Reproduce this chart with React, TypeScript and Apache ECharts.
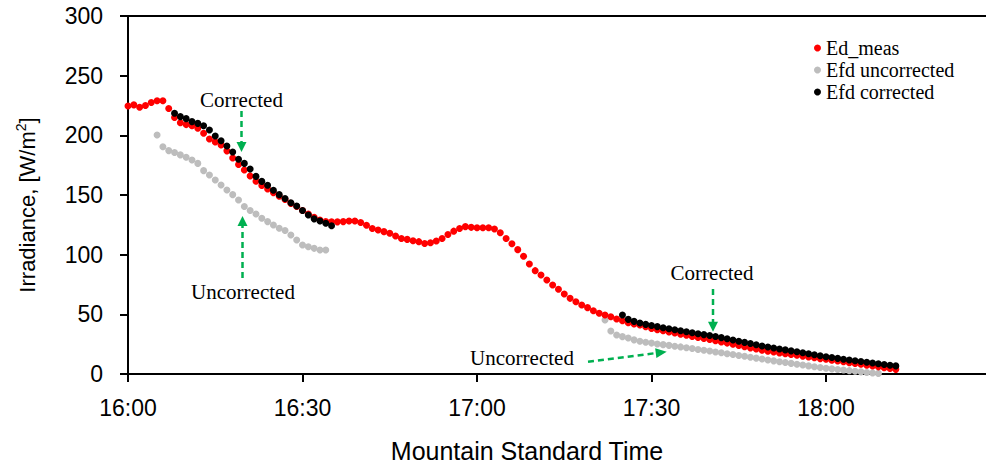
import React, { useEffect, useRef } from "react";
import * as echarts from "echarts";

// minutes after 16:00 for first sample of each series (1-minute spacing)
const edMeasStart = 0;
const edMeas = [
  224.6, 225.5, 223.5, 225, 227.5, 229, 229, 222.5, 215, 210.5,
  209, 208, 206, 201.7, 197, 194.5, 192, 187, 181, 175.5,
  171, 166, 161.5, 158, 155, 152, 149, 146.3, 143, 140.3,
  137, 134.1, 131.3, 129, 127.7, 127.5, 127.5, 127.7, 128.2, 128.2,
  126.9, 124.6, 122, 120.7, 119.3, 117.9, 115.7, 113.6, 112.8, 111.7,
  110.9, 109.4, 110, 111.5, 113.6, 116.9, 119.7, 122, 123.5, 122.9,
  122.6, 122.6, 122.6, 121.5, 118.4, 113.6, 109.2, 104.2, 98.6, 92.2,
  86.6, 83, 78.8, 74.6, 71, 67, 63.4, 60.6, 57.8, 55.6,
  53, 50.9, 49.5, 48, 46.1, 44.7, 43, 41.9, 41, 39.6,
  38.2, 37.1, 36.2, 35.3, 34.3, 33.4, 32.4, 31.5, 30.6, 29.7,
  28.9, 27.9, 26.9, 25.9, 24.9, 23.9, 22.9, 21.9, 21.0, 20.0,
  19.1, 18.4, 17.7, 17.0, 16.3, 15.7, 15.0, 14.3, 13.6, 12.9,
  12.3, 11.6, 10.9, 10.2, 9.5, 8.8, 8.1, 7.4, 6.7, 6.0,
  5.2, 4.6, 3.9,
];

const efdUncorrA_Start = 5;
const efdUncorrA = [
  200.3, 190.5, 187.2, 185.6, 183.6, 181.6, 179.4, 176.5, 170.4, 166.8,
  162.6, 158.4, 154.2, 150.3, 145.8, 140.3, 137, 134.1, 130.5, 127.7,
  124.9, 122.1, 120.2, 116.5, 112.3, 108.1, 106.7, 105.3, 103.9, 103.9,
];
const efdUncorrB_Start = 82;
const efdUncorrB = [
  45.3, 36.0, 32.7, 31.3, 30.2, 28.6, 27.4, 26.6, 25.9, 25.2,
  24.6, 24.0, 23.3, 22.7, 22.0, 21.3, 20.6, 19.9, 19.3, 18.5,
  17.8, 17.0, 16.3, 15.5, 14.8, 14.0, 13.3, 12.5, 11.8, 11.0,
  10.3, 9.6, 8.9, 8.2, 7.5, 6.8, 6.1, 5.4, 4.8, 4.3,
  3.8, 3.3, 2.8, 2.3, 1.8, 1.3, 0.9, 0.5,
];

const efdCorrA_Start = 8;
const efdCorrA = [
  218.5, 215.7, 214, 211.5, 210, 208, 204.5, 199.5, 195.5, 191,
  186, 180, 176.5, 171.8, 165.6, 161.4, 158.2, 154, 150.3, 147,
  143.5, 140.8, 137, 133.3, 130, 128.2, 126.3, 124.3,
];
const efdCorrB_Start = 85;
const efdCorrB = [
  49.5, 45.8, 44.1, 42.8, 41.6, 40.6, 39.7, 38.8, 37.9, 37.1,
  36.3, 35.4, 34.6, 33.8, 33.0, 32.3, 31.4, 30.5, 29.5, 28.5,
  27.5, 26.5, 25.5, 24.5, 23.5, 22.6, 21.8, 21.0, 20.2, 19.4,
  18.6, 17.8, 17.0, 16.2, 15.3, 14.5, 13.8, 13.1, 12.4, 11.7,
  11.1, 10.5, 9.9, 9.2, 8.6, 8.0, 7.4, 6.8,
];

const xTickValues = [0, 30, 60, 90, 120];
const xTickLabels = ["16:00", "16:30", "17:00", "17:30", "18:00"];

const seriesNames = ["Ed_meas", "Efd uncorrected", "Efd corrected"];
const seriesColors = ["#FF0000", "#BDBDBD", "#000000"];

function toPairs(start: number, vals: number[]) {
  return vals.map((v, i) => [start + i, v]);
}

const SERIF = "'Liberation Serif', 'Times New Roman', serif";
const SANS = "'Liberation Sans', Arial, sans-serif";
const GREEN = "#00B050";

function arrowDown(x: number, y1: number, tipY: number) {
  return [
    { type: "line", shape: { x1: x, y1, x2: x, y2: tipY - 9 }, style: { stroke: GREEN, lineWidth: 2.5, lineDash: [6, 4] } },
    { type: "polygon", shape: { points: [[x - 5, tipY - 10], [x + 5, tipY - 10], [x, tipY]] }, style: { fill: GREEN } },
  ];
}
function arrowUp(x: number, y1: number, tipY: number) {
  return [
    { type: "line", shape: { x1: x, y1, x2: x, y2: tipY + 9 }, style: { stroke: GREEN, lineWidth: 2.5, lineDash: [6, 4] } },
    { type: "polygon", shape: { points: [[x - 5, tipY + 10], [x + 5, tipY + 10], [x, tipY]] }, style: { fill: GREEN } },
  ];
}
function arrowRight(x1: number, y1: number, tx: number, ty: number) {
  const dx = tx - x1, dy = ty - y1;
  const len = Math.sqrt(dx * dx + dy * dy);
  const ux = dx / len, uy = dy / len;
  const bx = tx - 11 * ux, by = ty - 11 * uy;
  const px = -uy, py = ux;
  return [
    { type: "line", shape: { x1, y1, x2: bx + ux, y2: by + uy }, style: { stroke: GREEN, lineWidth: 2.5, lineDash: [6, 4] } },
    { type: "polygon", shape: { points: [[bx + 5 * px, by + 5 * py], [bx - 5 * px, by - 5 * py], [tx, ty]] }, style: { fill: GREEN } },
  ];
}
function label(text: string, x: number, y: number) {
  return {
    type: "text",
    x,
    y,
    style: {
      text,
      fill: "#000",
      fontSize: 21,
      fontFamily: SERIF,
      align: "center",
      verticalAlign: "middle",
      textAlign: "center",
      textVerticalAlign: "middle",
    },
  };
}

export default function App() {
  const ref = useRef<HTMLDivElement>(null);
  useEffect(() => {
    document.body.style.margin = "0";
    if (!ref.current) return;
    const chart = echarts.init(ref.current, null, { renderer: "svg" });
    const fmt = (v: number) => {
      const idx = xTickValues.indexOf(v);
      return idx >= 0 ? xTickLabels[idx] : "";
    };
    const sym = { type: "scatter", symbol: "circle", symbolSize: 7 };
    chart.setOption({
      animation: false,
      backgroundColor: "#fff",
      grid: { left: 128, top: 16, right: 0, bottom: 90 },
      legend: {
        orient: "vertical",
        left: 809,
        top: 33,
        itemWidth: 7,
        itemHeight: 7,
        itemGap: 2,
        icon: "circle",
        data: seriesNames,
        textStyle: { fontFamily: SERIF, fontSize: 20, color: "#000", lineHeight: 20 },
      },
      xAxis: [
        {
          type: "value",
          min: 0,
          max: 147.5,
          interval: 30,
          splitLine: { show: false },
          axisLine: { show: true, lineStyle: { color: "#000", width: 2 } },
          axisTick: { show: true, inside: false, length: 8, lineStyle: { color: "#000", width: 2 }, customValues: xTickValues },
          axisLabel: { customValues: xTickValues, formatter: fmt, margin: 22, fontSize: 23, fontFamily: SANS, color: "#000" },
        },
        {
          type: "value",
          position: "top",
          min: 0,
          max: 147.5,
          splitLine: { show: false },
          axisLine: { show: true, onZero: false, lineStyle: { color: "#000", width: 2 } },
          axisTick: { show: false },
          axisLabel: { show: false },
        },
      ],
      yAxis: {
        type: "value",
        min: 0,
        max: 300,
        interval: 50,
        splitLine: { show: false },
        axisLine: { show: true, lineStyle: { color: "#000", width: 2 } },
        axisTick: { show: true, length: 8, lineStyle: { color: "#000", width: 2 } },
        axisLabel: { margin: 25, fontSize: 23, fontFamily: SANS, color: "#000" },
      },
      series: [
        { ...sym, name: seriesNames[0], itemStyle: { color: seriesColors[0], opacity: 1 }, data: toPairs(edMeasStart, edMeas), z: 2 },
        { ...sym, name: seriesNames[1], itemStyle: { color: seriesColors[1], opacity: 1 }, data: [...toPairs(efdUncorrA_Start, efdUncorrA), ...toPairs(efdUncorrB_Start, efdUncorrB)], z: 1 },
        { ...sym, name: seriesNames[2], itemStyle: { color: seriesColors[2], opacity: 1 }, data: [...toPairs(efdCorrA_Start, efdCorrA), ...toPairs(efdCorrB_Start, efdCorrB)], z: 3 },
      ],
      graphic: [
        label("Corrected", 241.5, 100),
        ...arrowDown(241.5, 111, 152),
        label("Uncorrected", 243, 292),
        ...arrowUp(242.5, 278, 216),
        label("Corrected", 712, 272.5),
        ...arrowDown(713, 289, 331.7),
        label("Uncorrected", 522, 358),
        ...arrowRight(588, 361.7, 666.7, 351.7),
        {
          type: "text",
          x: 527,
          y: 451,
          style: {
            text: "Mountain Standard Time",
            fill: "#000",
            fontSize: 25,
            fontFamily: SANS,
            align: "center",
            verticalAlign: "middle",
            textAlign: "center",
            textVerticalAlign: "middle",
          },
        },
        {
          type: "text",
          x: 27,
          y: 205,
          rotation: Math.PI / 2,
          style: {
            text: "{a|Irradiance, [W/m}{s|2}{a|]}",
            fill: "#000",
            align: "center",
            verticalAlign: "middle",
            textAlign: "center",
            textVerticalAlign: "middle",
            rich: {
              a: { fontSize: 22, fontFamily: SANS, fill: "#000", color: "#000", lineHeight: 26 },
              s: { fontSize: 14, fontFamily: SANS, fill: "#000", color: "#000", verticalAlign: "top", lineHeight: 26 },
            },
          },
        },
      ],
    });
    return () => chart.dispose();
  }, []);
  return <div ref={ref} style={{ width: 986, height: 464 }} />;
}
